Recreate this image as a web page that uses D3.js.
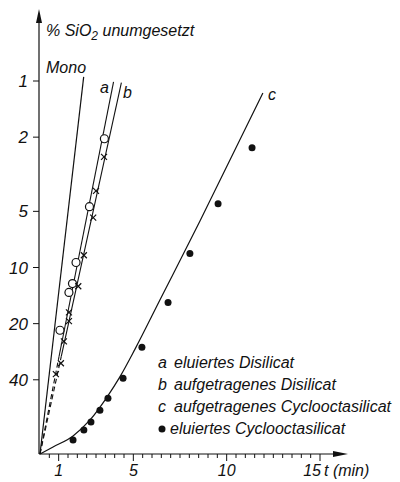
<!DOCTYPE html>
<html>
<head>
<meta charset="utf-8">
<script src="https://cdn.jsdelivr.net/npm/d3@7"></script>
<style>
  body { margin: 0; background: #fff; }
  text { font-family: "Liberation Sans", Arial, sans-serif; font-style: italic; fill: #111; }
</style>
</head>
<body>
<script>
var W = 400, H = 482;

// ticks
var xTicks = [1, 5, 10, 15];
var yTicks = [1, 2, 5, 10, 20, 40];

// straight lines (t in min, % unreacted)
var monoLine = [[0, 100], [2.34, 0.95]];
var aLine = [[0, 100], [1.02, 30], [3.94, 1.01]];
var bLine = [[0, 100], [1.14, 30], [4.36, 1.02]];

// curve c
var cCurveT = [0, 0.7, 1.77, 2.68, 3.59, 4.28, 5.09, 6.43, 8.57, 11.94];
var cCurveV = [100, 91.7, 80.0, 65.7, 49.5, 38.6, 27.4, 14.9, 5.63, 1.16];

// a: eluiertes Disilicat (open circles)
var aT = [3.45, 2.65, 1.93, 1.74, 1.55, 1.07];
var aV = [2.04, 4.72, 9.4, 12.2, 13.6, 21.7];

// b: aufgetragenes Disilicat (crosses)
var bT = [3.43, 3.0, 2.85, 2.35, 2.05, 1.55, 1.55, 1.28, 1.12, 0.85];
var bV = [2.55, 3.88, 5.4, 8.6, 12.6, 17.4, 19.4, 24.9, 32.6, 37.3];

// eluiertes Cyclooctasilicat (filled dots)
var dT = [1.77, 2.35, 2.73, 3.21, 3.64, 4.45, 5.46, 6.86, 8.03, 9.54, 11.36];
var dV = [84.2, 74.4, 67.4, 58.2, 50.2, 39.2, 26.8, 15.4, 8.42, 4.55, 2.28];

var legendKeys = ["a", "b", "c", "dot"];
var legendTexts = ["eluiertes Disilicat", "aufgetragenes Disilicat",
                   "aufgetragenes Cyclooctasilicat", "eluiertes Cyclooctasilicat"];

var x = d3.scaleLinear().domain([0, 15]).range([40, 320]);
var y = d3.scaleLog().domain([1, 100]).range([81, 454]);

var svg = d3.select("body").append("svg")
            .attr("width", W).attr("height", H);

// axes
svg.append("line").attr("x1", 39).attr("y1", 18).attr("x2", 39).attr("y2", 454)
   .attr("stroke", "#111").attr("stroke-width", 1.2);
svg.append("path").attr("d", "M39,9 L36,23 L42,23 Z").attr("fill", "#111");
svg.append("line").attr("x1", 39).attr("y1", 454).attr("x2", 338).attr("y2", 454)
   .attr("stroke", "#111").attr("stroke-width", 1.2);
svg.append("path").attr("d", "M348,454 L333,451 L333,457 Z").attr("fill", "#111");

// y ticks + labels
svg.selectAll(".ytick").data(yTicks).enter().append("line")
   .attr("x1", 33).attr("x2", 39)
   .attr("y1", function(d) { return y(d); }).attr("y2", function(d) { return y(d); })
   .attr("stroke", "#111");
svg.selectAll(".ylab").data(yTicks).enter().append("text")
   .attr("x", 28).attr("y", function(d) { return y(d) + 6; })
   .attr("text-anchor", "end").style("font-size", "17px")
   .text(function(d) { return d; });

// x ticks (every half minute)
var minor = d3.range(1, 31).map(function(i) { return i / 2; });
svg.selectAll(".xtick").data(minor).enter().append("line")
   .attr("x1", function(d) { return x(d); }).attr("x2", function(d) { return x(d); })
   .attr("y1", 454)
   .attr("y2", function(d) { return xTicks.indexOf(d) >= 0 ? 461 : 458; })
   .attr("stroke", "#111");
svg.selectAll(".xlab").data(xTicks).enter().append("text")
   .attr("x", function(d) { return d == 15 ? x(d) + 1 : x(d); })
   .attr("y", 476)
   .attr("text-anchor", function(d) { return d == 15 ? "end" : "middle"; })
   .style("font-size", "16px")
   .text(function(d) { return d; });
svg.append("text").attr("x", 324).attr("y", 476).style("font-size", "16px").text("t (min)");

// axis title
var title = svg.append("text").attr("x", 46).attr("y", 36).style("font-size", "16px");
title.append("tspan").text("% SiO");
title.append("tspan").attr("dy", 4).style("font-size", "12px").text("2");
title.append("tspan").attr("dy", -4).text(" unumgesetzt");

var line = d3.line().x(function(d) { return x(d[0]); }).y(function(d) { return y(d[1]); });

// Mono
svg.append("path").attr("d", line(monoLine)).attr("fill", "none")
   .attr("stroke", "#111").attr("stroke-width", 1.2);
svg.append("text").attr("x", 46).attr("y", 73).style("font-size", "16px").text("Mono");

// a and b: dashed near origin, solid above
[aLine, bLine].forEach(function(L) {
  svg.append("path").attr("d", line(L.slice(0, 2))).attr("fill", "none")
     .attr("stroke", "#111").attr("stroke-width", 1.1).attr("stroke-dasharray", "5,3");
  svg.append("path").attr("d", line(L.slice(1))).attr("fill", "none")
     .attr("stroke", "#111").attr("stroke-width", 1.1);
});
svg.append("text").attr("x", 100).attr("y", 93).style("font-size", "16px").text("a");
svg.append("text").attr("x", 123).attr("y", 98).style("font-size", "16px").text("b");

// curve c
var cPts = cCurveT.map(function(t, i) { return [t, cCurveV[i]]; });
var smooth = d3.line().curve(d3.curveMonotoneX)
   .x(function(d) { return x(d[0]); }).y(function(d) { return y(d[1]); });
svg.append("path").attr("d", smooth(cPts)).attr("fill", "none")
   .attr("stroke", "#111").attr("stroke-width", 1.2);
svg.append("text").attr("x", 268).attr("y", 100).style("font-size", "16px").text("c");

// open circles
svg.selectAll(".ca").data(aT).enter().append("circle")
   .attr("cx", function(d) { return x(d); })
   .attr("cy", function(d, i) { return y(aV[i]); })
   .attr("r", 4).attr("fill", "#fff").attr("stroke", "#111").attr("stroke-width", 1.2);

// crosses
svg.selectAll(".cb").data(bT).enter().append("path")
   .attr("transform", function(d, i) { return "translate(" + x(d) + "," + y(bV[i]) + ")"; })
   .attr("d", "M-3,-3L3,3M-3,3L3,-3")
   .attr("stroke", "#111").attr("stroke-width", 1.2);

// filled dots
svg.selectAll(".cd").data(dT).enter().append("circle")
   .attr("cx", function(d) { return x(d); })
   .attr("cy", function(d, i) { return y(dV[i]); })
   .attr("r", 3.5).attr("fill", "#111");

// legend
var lg = svg.append("g");
legendKeys.forEach(function(k, i) {
  var yy = 368 + i * 22;
  if (k == "dot") {
    lg.append("circle").attr("cx", 162).attr("cy", yy - 5).attr("r", 3.5).attr("fill", "#111");
  } else {
    lg.append("text").attr("x", 158).attr("y", yy).style("font-size", "16px").text(k);
  }
  lg.append("text").attr("x", k == "dot" ? 170 : 174).attr("y", yy)
    .style("font-size", "16px").text(legendTexts[i]);
});
</script>
</body>
</html>
